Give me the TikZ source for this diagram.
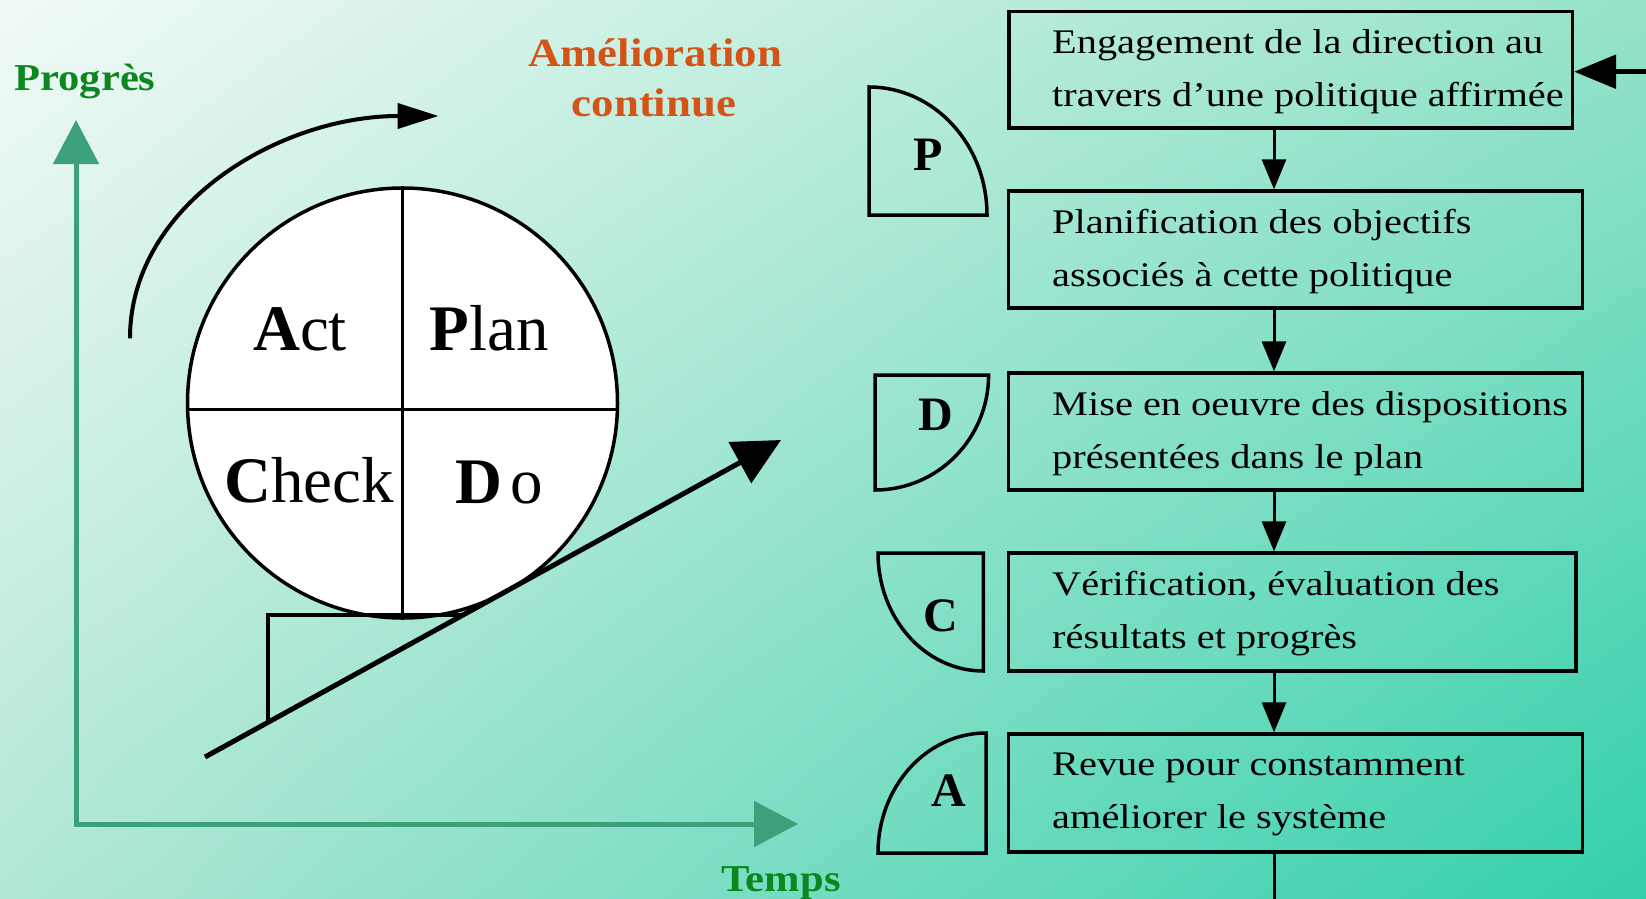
\documentclass[tikz,border=0pt]{standalone}
\usepackage{fontspec}
\setmainfont{Liberation Serif}
\newfontfamily\boxfont[FakeStretch=1.17]{Liberation Serif}
\newfontfamily\labfont[FakeStretch=1.12]{Liberation Serif}
\usetikzlibrary{arrows.meta,shadings}
\definecolor{bgTL}{RGB}{242,250,246}
\definecolor{bgTR}{RGB}{150,226,202}
\definecolor{bgBL}{RGB}{178,231,214}
\definecolor{bgBR}{RGB}{50,208,170}
\definecolor{labgreen}{RGB}{10,135,30}
\definecolor{axisgreen}{RGB}{60,160,122}
\definecolor{laborange}{RGB}{212,84,24}
\begin{document}
\begin{tikzpicture}[x=1pt,y=-1pt,
  blk/.style={draw=black, line width=3.5pt},
  boxnode/.style={draw=black, line width=3.3pt, rectangle, inner sep=0pt},
  boxtext/.style={anchor=west, align=left, inner sep=0pt, font=\boxfont\fontsize{34.5}{53}\selectfont},
  flow/.style={draw=black, line width=3pt, -{Triangle[length=30pt,width=24pt]}},
  axis/.style={draw=axisgreen, line width=5pt, line cap=rect, -{Triangle[length=44pt,width=45pt]}},
  greenlab/.style={text=labgreen, inner sep=0pt, anchor=base, font=\labfont\bfseries\fontsize{38}{44}\selectfont},
  orangelab/.style={text=laborange, inner sep=0pt, anchor=base, font=\labfont\bfseries\fontsize{40}{44}\selectfont},
  biglab/.style={inner sep=0pt, anchor=base, font=\fontsize{65}{70}\selectfont},
  letter/.style={inner sep=0pt, anchor=base, font=\bfseries\fontsize{48}{50}\selectfont},
  quarter/.style={draw=black, line width=3.5pt, line join=miter}
]
\useasboundingbox (0,0) rectangle (1646,899);
\shade[upper left=bgTL, upper right=bgTR, lower left=bgBL, lower right=bgBR] (0,0) rectangle (1646,899);

% axes
\coordinate (o) at (76,824);
\coordinate (ytip) at (76,120);
\coordinate (xtip) at (798,824);
\draw[axis] (o) -- (ytip);
\draw[axis] (o) -- (xtip);
\node[greenlab] (prog) at (85,90) {Progrès};
\node[greenlab] (temps) at (781,891) {Temps};
\node[orangelab] (am1) at (655,66.7) {Amélioration};
\node[orangelab] (am2) at (654,116.7) {continue};

% curved arrow
\coordinate (c0) at (130,338.3);
\coordinate (c1) at (438.5,116);
\draw[blk, line width=4pt, -{Triangle[length=41pt,width=25pt]}] (c0) .. controls (130,205) and (279,116) .. (c1);

% PDCA wheel
\node[circle, draw=black, fill=white, line width=3.5pt, minimum size=430pt, inner sep=0pt] (cyc) at (402.5,403) {};
\path (cyc.center) ++(0,6) coordinate (hmid);
\draw[blk, line width=3pt] (hmid -| cyc.west) -- (hmid -| cyc.east);
\draw[blk, line width=3pt] (cyc.north) -- (cyc.south);
\node[biglab] (act) at (300,350) {\textbf{A}ct};
\node[biglab] (plan) at (489,350) {\textbf{P}lan};
\node[biglab] (check) at (309,502) {\textbf{C}heck};
\node[biglab] (do) at (499,503) {\textbf{D}\hspace{8pt}o};

% ramp
\coordinate (r0) at (205,757);
\coordinate (r1) at (781,440);
\draw[draw=black, line width=5pt, -{Triangle[length=47pt,width=46pt]}] (r0) -- (r1);
\coordinate (s0) at (268,722.3);
\coordinate (s1) at (463,615);
\draw[blk, line width=4pt] (s0) |- (s1);

% boxes
\node[boxnode, minimum width=563.4pt, minimum height=116.3pt] (b1) at (1290.7,69.85) {};
\node[boxnode, minimum width=573.8pt, minimum height=117pt] (b2) at (1295.5,249.5) {};
\node[boxnode, minimum width=573.8pt, minimum height=117pt] (b3) at (1295.5,431.5) {};
\node[boxnode, minimum width=567.4pt, minimum height=118pt] (b4) at (1292.3,612) {};
\node[boxnode, minimum width=573.8pt, minimum height=118pt] (b5) at (1295.5,793) {};

\node[boxtext] (t1) at (1052,71.6) {Engagement de la direction au\\travers d’une politique affirmée};
\node[boxtext] (t2) at (1052,251.2) {Planification des objectifs\\associés à cette politique};
\node[boxtext] (t3) at (1052,433.2) {Mise en oeuvre des dispositions\\présentées dans le plan};
\node[boxtext] (t4) at (1052,613.7) {Vérification, évaluation des\\résultats et progrès};
\node[boxtext] (t5) at (1052,794.7) {Revue pour constamment\\améliorer le système};

\coordinate (ax) at (1274,0);
\draw[flow] (b1.south -| ax) -- (b2.north -| ax);
\draw[flow] (b2.south -| ax) -- (b3.north -| ax);
\draw[flow] (b3.south -| ax) -- (b4.north -| ax);
\draw[flow] (b4.south -| ax) -- (b5.north -| ax);
\coordinate (fbot) at (1274,899);
\draw[draw=black, line width=3pt] (b5.south -| ax) -- (fbot);
\coordinate (fright) at (1646,71.7);
\draw[draw=black, line width=5.5pt, -{Triangle[length=42pt,width=33pt]}] (fright) -- (b1.east |- fright);

% quarter shapes
\draw[quarter] (987,215) -- (869,215) -- (869,87) .. controls (934,87) and (987,144.3) .. (987,215) -- cycle;
\draw[quarter] (875,490) -- (875,375) -- (988.6,375) .. controls (988.6,438.5) and (937.7,490) .. (875,490) -- cycle;
\draw[quarter] (878,553) -- (983.3,553) -- (983.3,671) .. controls (925.1,671) and (878,618.2) .. (878,553) -- cycle;
\draw[quarter] (986,733) -- (986,853) -- (878,853) .. controls (878,786.7) and (926.4,733) .. (986,733) -- cycle;
\node[letter] (lp) at (928,170) {P};
\node[letter] (ld) at (936,430) {D};
\node[letter] (lc) at (941,631.7) {C};
\node[letter] (la) at (949,806.7) {A};
\end{tikzpicture}
\end{document}
